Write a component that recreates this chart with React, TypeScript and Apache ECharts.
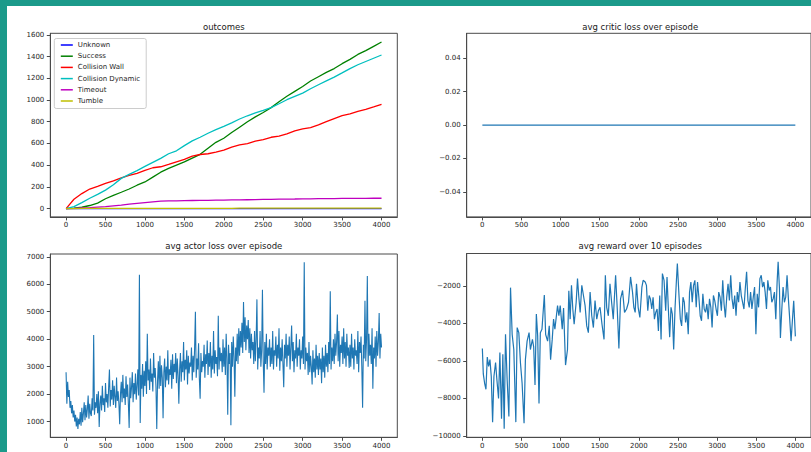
import React, { useEffect, useRef } from "react";
import * as echarts from "echarts";

// ---------- outcomes (cumulative counts) ----------
const outcomeEpisodes = [0,100,200,300,400,500,600,700,800,900,1000,1100,1200,1300,1400,1500,1600,1700,1800,1900,2000,2100,2200,2300,2400,2500,2600,2700,2800,2900,3000,3100,3200,3300,3400,3500,3600,3700,3800,3900,4000];
const unknownCounts = [0,0,0,0,0,0,0,0,0,0,0,0,0,0,0,0,0,0,0,0,0,0,0,0,0,0,0,0,0,0,0,0,0,0,0,0,0,0,0,0,0];
const successCounts = [0,3,12,28,50,90,122,150,180,215,245,290,335,370,400,430,465,500,555,610,648,700,750,800,845,885,930,985,1035,1080,1125,1175,1215,1255,1290,1335,1375,1420,1455,1495,1535];
const collisionWallCounts = [0,86,138,180,205,232,255,282,305,325,352,376,385,407,431,453,483,498,505,520,538,566,587,599,621,636,657,667,688,716,734,746,771,801,829,856,872,896,914,936,960];
const collisionDynamicCounts = [0,18,55,95,130,170,220,278,315,350,388,425,462,505,532,580,624,657,694,728,758,789,825,855,881,905,930,966,1003,1034,1064,1104,1141,1177,1211,1250,1290,1325,1355,1385,1415];
const timeoutCounts = [0,2,5,8,13,18,25,32,40,48,55,62,68,70,71,73,74,75,76,77,78,79,80,81,82,84,85,86,87,88,90,90,91,92,92,93,93,94,94,95,95];
const tumbleCounts = [0,0,1,1,1,1,1,1,1,2,2,2,2,2,2,2,2,2,2,2,2,2,3,3,3,3,3,3,3,3,3,3,3,3,3,3,3,3,3,3,3];

// ---------- critic loss ----------
const criticEpisodes = [0,500,1000,1500,2000,2500,3000,3500,4000];
const criticLoss = [0,0,0,0,0,0,0,0,0];

// ---------- actor loss (one value every 10 episodes) ----------
const actorStep = 10;
const actorLoss = [
  2800,1650,2450,1900,2150,1500,1750,1300,1600,1150,1400,1000,1250,820,1150,730,1100,900,1350,850,
  1500,980,1300,1700,1050,1600,1150,1450,1950,1100,1650,1300,1200,1850,1400,4150,1250,1700,1500,2000,
  1300,2100,800,1650,1950,1400,2300,1600,1850,1350,2400,1700,2000,1500,2250,2900,1550,2150,1800,2500,
  1600,2300,1900,1500,2600,1750,2100,1650,900,2000,2450,1700,2700,1850,2200,1600,2650,1900,2350,1650,
  770,2600,1850,2250,2800,1700,2400,2000,2750,1800,2300,2900,1950,6350,950,2700,2200,3100,1900,2850,
  2300,3200,2000,4200,2500,2900,2150,3300,2450,2750,2100,3500,2600,2950,2250,730,2500,3200,2200,3400,
  2300,3050,2600,1120,2800,3300,2250,3000,2500,3600,2350,2900,2700,3250,2200,3450,2550,3100,2800,3500,
  2400,3300,2700,1650,2900,3500,2450,3200,2800,3900,2500,3250,2900,3600,2350,3400,2750,3150,3000,3700,
  2500,3400,2800,3700,5000,2600,3300,2900,3850,2550,1830,3500,2800,3200,3000,3800,2600,3450,3100,3950,
  2700,3500,3000,3900,2600,3400,2900,4300,2750,3600,3100,3350,2650,4850,2900,3700,3200,3500,2800,4000,
  3000,3700,2700,4200,3300,1250,3800,3100,3500,870,3900,3000,4100,3350,1900,3700,3200,4200,3100,4400,
  3400,4300,3700,4600,3500,5350,3900,4800,3600,4500,4000,4700,3500,4400,3300,4200,3600,3900,3100,4300,
  3200,4000,5450,2900,3700,3300,4300,3000,3600,5800,3200,2050,3900,3100,4200,2900,3700,3400,4000,3000,
  3700,3100,4300,2900,3600,3400,4100,3000,3800,3300,4400,2850,3700,3200,4000,3100,2250,3800,3300,4200,
  3000,3800,3400,4100,2900,3700,4500,3200,3900,2800,3600,3300,4200,3000,3700,3400,4000,2900,3600,3300,
  4100,3100,6800,2900,3700,3200,3500,2700,3900,2800,3400,3000,2350,3600,2800,3300,2600,3800,2900,3400,
  2700,3500,2900,3300,2400,3700,2800,3400,2600,3800,3000,3500,2800,3900,3100,5750,2900,3700,3200,4000,
  3100,4200,3400,3900,4900,3200,4300,3000,3800,3500,4100,3100,4400,3300,3900,3000,4200,3400,3700,2950,
  3800,3000,4200,3300,3700,2900,4000,3400,3600,3100,4300,2800,3900,3500,4100,3000,1500,3800,3300,5400,
  3200,4000,6300,3000,4200,3400,3800,3100,4400,2200,3700,3300,4100,3000,4300,3400,3900,4950,3300,4200,
  3700
];

// ---------- avg reward over 10 episodes ----------
const rewardEpisodes = [0,12,29,46,63,80,97,114,131,148,169,186,207,224,245,262,279,296,317,339,360,381,402,428,445,466,487,508,533,550,572,597,614,640,656,673,690,707,724,741,762,792,809,834,855,872,893,910,927,961,978,995,1021,1038,1063,1088,1105,1122,1139,1156,1173,1199,1216,1233,1250,1271,1292,1313,1334,1355,1377,1398,1419,1440,1462,1483,1504,1529,1555,1572,1589,1610,1631,1652,1673,1703,1724,1745,1766,1792,1817,1843,1868,1894,1919,1936,1953,1970,1991,2013,2039,2055,2081,2097,2114,2131,2148,2165,2182,2199,2216,2233,2250,2267,2284,2301,2322,2343,2360,2377,2394,2411,2428,2445,2462,2479,2492,2513,2530,2547,2564,2581,2597,2614,2631,2648,2665,2682,2699,2716,2733,2750,2767,2784,2801,2818,2835,2852,2869,2886,2903,2920,2936,2953,2970,2987,3004,3021,3038,3055,3072,3089,3106,3123,3140,3157,3174,3191,3208,3225,3242,3258,3275,3292,3309,3326,3343,3360,3377,3394,3411,3428,3445,3462,3479,3496,3513,3530,3547,3564,3581,3598,3614,3631,3648,3665,3682,3699,3716,3733,3750,3767,3780,3797,3809,3826,3843,3860,3877,3894,3911,3928,3945,3962,3979,4000];
const rewardValues = [-5350,-6700,-7200,-7520,-5800,-6300,-5940,-6840,-9270,-6840,-6090,-7020,-8010,-5560,-9090,-5650,-9630,-4590,-7020,-8970,-2100,-4590,-5400,-9270,-4230,-4500,-6120,-7200,-9330,-5940,-4950,-4500,-5400,-4860,-5260,-7290,-3510,-4680,-8280,-4500,-4320,-2490,-4600,-4950,-4140,-5940,-4860,-3780,-4320,-3060,-3600,-3060,-4320,-3190,-6230,-5400,-2270,-3780,-1980,-3240,-4050,-2880,-1620,-2610,-3420,-1980,-2520,-3060,-4140,-4500,-2340,-3600,-4230,-2790,-3780,-3330,-3150,-4050,-4860,-1440,-3150,-3600,-1890,-2880,-3780,-1440,-3240,-5350,-2700,-2250,-3420,-3240,-2880,-1530,-2340,-3150,-3420,-1890,-3150,-3690,-2070,-1710,-1800,-1980,-3330,-2520,-2700,-3240,-2610,-3780,-3420,-3240,-4410,-2520,-4860,-1350,-1710,-3330,-1530,-3240,-4740,-3150,-3510,-5400,-3240,-1800,-810,-2520,-3780,-4140,-2610,-2880,-3960,-3420,-4590,-2340,-1800,-2880,-1980,-1710,-3150,-1800,-2610,-3600,-3870,-2430,-3240,-3420,-2970,-3780,-2700,-3150,-4230,-2520,-2790,-3240,-3600,-2340,-2610,-3330,-1710,-2970,-3690,-2610,-1890,-2790,-1440,-2700,-3240,-2520,-3600,-2340,-2880,-1800,-2520,-2880,-3240,-2160,-1260,-2790,-3150,-2340,-3240,-2610,-2070,-4590,-2430,-3150,-1620,-1440,-2070,-1800,-2340,-3240,-1710,-2250,-2070,-2880,-2700,-2340,-3780,-1800,-720,-2160,-4780,-3330,-2070,-2880,-2610,-1440,-2700,-3780,-4950,-3870,-2800,-4700];

// ---------- tick labels ----------
const episodeTicks = [0,500,1000,1500,2000,2500,3000,3500,4000];
const outcomeTicks = [0,200,400,600,800,1000,1200,1400,1600];
const criticTicks = [-0.04,-0.02,0,0.02,0.04];
const actorTicks = [1000,2000,3000,4000,5000,6000,7000];
const rewardTicks = [-10000,-8000,-6000,-4000,-2000];

const titles = ["outcomes", "avg critic loss over episode", "avg actor loss over episode", "avg reward over 10 episodes"];

const FONT = "DejaVu Sans";
const AXIS_COLOR = "#4a4a4a";
const TEXT_COLOR = "#1e1e1e";
const TAB_BLUE = "#1f77b4";

const zip = (xs: number[], ys: number[]) => ys.map((y, i) => [xs[i], y]);
const minus = (s: string) => s.replace("-", "\u2212");

export default function App() {
  const ref = useRef<HTMLDivElement>(null);

  useEffect(() => {
    if (!ref.current) return;
    const chart = echarts.init(ref.current, undefined, { renderer: "svg" });

    const grids = [
      { left: 50.3, top: 33.3, width: 347, height: 183.6 },
      { left: 466.7, top: 33.3, width: 347, height: 183.6 },
      { left: 50.3, top: 254, width: 347, height: 183.3 },
      { left: 466.7, top: 253.5, width: 347, height: 183.8 },
    ].map((g) => ({ ...g, show: true, borderColor: AXIS_COLOR, borderWidth: 1, backgroundColor: "transparent" }));

    const xAxis = [0, 1, 2, 3].map((i) => ({
      type: "value",
      gridIndex: i,
      min: -200,
      max: 4200,
      axisLine: { show: true, onZero: false, lineStyle: { color: AXIS_COLOR, width: 1 } },
      axisTick: { show: true, length: 3.5, customValues: episodeTicks, lineStyle: { color: AXIS_COLOR, width: 1 } },
      axisLabel: {
        customValues: episodeTicks,
        formatter: (v: number) => String(v),
        fontSize: 7,
        fontFamily: FONT,
        color: TEXT_COLOR,
        margin: 5,
      },
      splitLine: { show: false },
    }));

    const yDefs = [
      { min: -77, max: 1615, ticks: outcomeTicks, fmt: (v: number) => String(v) },
      { min: -0.055, max: 0.055, ticks: criticTicks, fmt: (v: number) => minus(v.toFixed(2)) },
      { min: 427, max: 7103, ticks: actorTicks, fmt: (v: number) => String(v) },
      { min: -10080, max: -280, ticks: rewardTicks, fmt: (v: number) => minus(String(v)) },
    ];
    const yAxis = yDefs.map((d, i) => ({
      type: "value",
      gridIndex: i,
      min: d.min,
      max: d.max,
      axisLine: { show: true, onZero: false, lineStyle: { color: AXIS_COLOR, width: 1 } },
      axisTick: { show: true, length: 3.5, customValues: d.ticks, lineStyle: { color: AXIS_COLOR, width: 1 } },
      axisLabel: { customValues: d.ticks, formatter: d.fmt, fontSize: 7, fontFamily: FONT, color: TEXT_COLOR, margin: 6 },
      splitLine: { show: false },
    }));

    const outcomeSeries = [
      { name: "Unknown", data: unknownCounts, color: "#0000ff" },
      { name: "Success", data: successCounts, color: "#008000" },
      { name: "Collision Wall", data: collisionWallCounts, color: "#ff0000" },
      { name: "Collision Dynamic", data: collisionDynamicCounts, color: "#00bfbf" },
      { name: "Timeout", data: timeoutCounts, color: "#bf00bf" },
      { name: "Tumble", data: tumbleCounts, color: "#bfbf00" },
    ];

    const lineBase = { type: "line", showSymbol: false, symbol: "none", smooth: false, silent: true };

    const series: any[] = outcomeSeries.map((s) => ({
      ...lineBase,
      name: s.name,
      xAxisIndex: 0,
      yAxisIndex: 0,
      data: zip(outcomeEpisodes, s.data),
      color: s.color,
      lineStyle: { color: s.color, width: 1.3 },
    }));
    series.push({
      ...lineBase,
      name: "critic",
      xAxisIndex: 1,
      yAxisIndex: 1,
      data: zip(criticEpisodes, criticLoss),
      lineStyle: { color: TAB_BLUE, width: 1.3 },
    });
    series.push({
      ...lineBase,
      name: "actor",
      xAxisIndex: 2,
      yAxisIndex: 2,
      data: actorLoss.map((v, i) => [i * actorStep, v]),
      lineStyle: { color: TAB_BLUE, width: 1.1 },
    });
    series.push({
      ...lineBase,
      name: "reward",
      xAxisIndex: 3,
      yAxisIndex: 3,
      data: zip(rewardEpisodes, rewardValues),
      lineStyle: { color: TAB_BLUE, width: 1.2 },
    });

    const titlePos = [
      [223.8, 27],
      [640.2, 27],
      [223.8, 246],
      [640.2, 246],
    ];

    const graphic: any[] = [
      { type: "rect", shape: { x: 0, y: 0, width: 811, height: 6 }, style: { fill: "#1b9a8a" }, silent: true },
      { type: "rect", shape: { x: 0, y: 0, width: 7, height: 452 }, style: { fill: "#1b9a8a" }, silent: true },
      ...titles.map((t, i) => ({
        type: "text",
        x: titlePos[i][0],
        y: titlePos[i][1],
        silent: true,
        style: {
          text: t,
          fill: "#1a1a1a",
          fontSize: 8.5,
          fontFamily: FONT,
          align: "center",
          verticalAlign: "middle",
          textAlign: "center",
          textVerticalAlign: "middle",
        },
      })),
    ];

    chart.setOption({
      animation: false,
      backgroundColor: "#ffffff",
      grid: grids,
      xAxis,
      yAxis,
      series,
      graphic,
      legend: {
        data: outcomeSeries.map((s) => s.name),
        orient: "vertical",
        left: 54.3,
        top: 38.5,
        padding: [2, 6, 3, 6.5],
        itemGap: 2.2,
        itemWidth: 12,
        itemHeight: 1.5,
        icon: "rect",
        selectedMode: false,
        backgroundColor: "rgba(255,255,255,0.8)",
        borderColor: "#cccccc",
        borderWidth: 1,
        borderRadius: 2,
        textStyle: { fontSize: 7, fontFamily: FONT, color: TEXT_COLOR, lineHeight: 9 },
      },
    });

    return () => chart.dispose();
  }, []);

  return (
    <div
      ref={ref}
      style={{ position: "absolute", left: 0, top: 0, width: "811px", height: "452px" }}
    />
  );
}
